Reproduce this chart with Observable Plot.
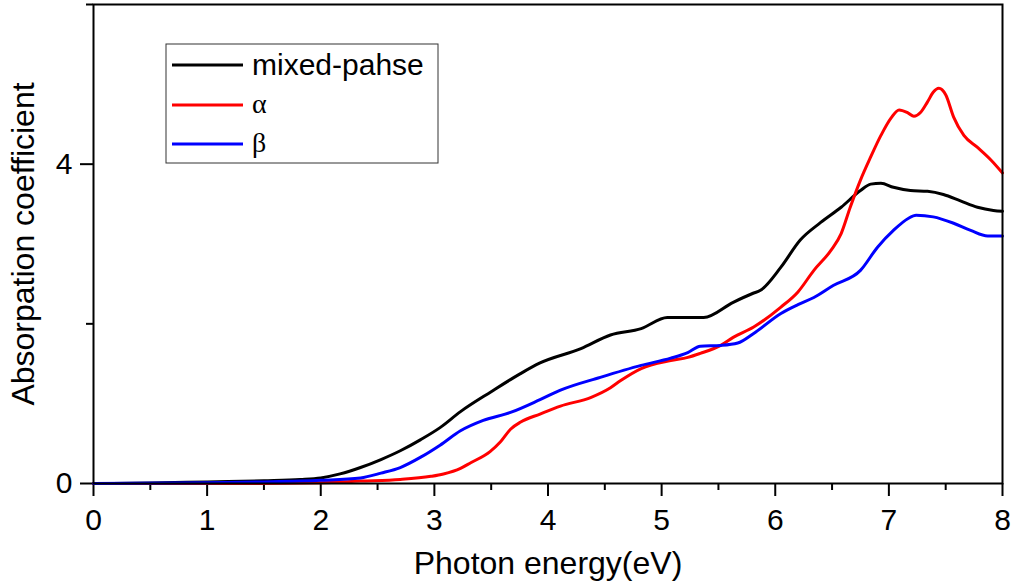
<!DOCTYPE html>
<html><head><meta charset="utf-8">
<script src="https://cdn.jsdelivr.net/npm/d3@7"></script>
<script src="https://cdn.jsdelivr.net/npm/@observablehq/plot@0.6"></script>
<style>body{margin:0;background:#fff}#chart{width:1014px;height:586px}</style>
</head><body><div id="chart"></div>
<script>
const seriesNames = ["mixed-pahse", "α", "β"];
const seriesColors = ["#000000", "#ff0000", "#0000ff"];

const mixedX = [0, 0.5, 1, 1.5, 1.82, 2.0, 2.17, 2.35, 2.53, 2.70, 2.88, 3.05, 3.23, 3.5, 3.75, 3.93, 4.29, 4.55, 4.82, 5.05, 5.37, 5.63, 5.8, 5.87, 6.05, 6.22, 6.4, 6.58, 6.75, 6.84, 6.93, 7.04, 7.19, 7.34, 7.48, 7.63, 7.78, 7.92, 8.0];
const mixedY = [0, 0.005, 0.02, 0.035, 0.05, 0.07, 0.12, 0.20, 0.30, 0.41, 0.55, 0.70, 0.90, 1.15, 1.37, 1.51, 1.69, 1.86, 1.94, 2.08, 2.08, 2.27, 2.38, 2.42, 2.71, 3.05, 3.27, 3.46, 3.67, 3.75, 3.76, 3.71, 3.67, 3.66, 3.62, 3.54, 3.46, 3.42, 3.41];

const alphaX = [0, 1, 1.7, 2.0, 2.35, 2.70, 2.97, 3.08, 3.23, 3.32, 3.49, 3.58, 3.67, 3.76, 3.93, 4.11, 4.38, 4.55, 4.64, 4.82, 5.08, 5.23, 5.34, 5.52, 5.63, 5.81, 6.05, 6.20, 6.34, 6.49, 6.58, 6.66, 6.75, 6.84, 6.93, 7.02, 7.09, 7.17, 7.22, 7.28, 7.34, 7.39, 7.44, 7.50, 7.57, 7.66, 7.78, 7.90, 8.0];
const alphaY = [0, 0, 0.003, 0.01, 0.03, 0.05, 0.09, 0.12, 0.19, 0.26, 0.40, 0.52, 0.68, 0.77, 0.87, 0.97, 1.08, 1.20, 1.29, 1.44, 1.54, 1.58, 1.63, 1.73, 1.83, 1.96, 2.21, 2.40, 2.67, 2.92, 3.13, 3.46, 3.80, 4.09, 4.36, 4.58, 4.68, 4.64, 4.60, 4.65, 4.78, 4.90, 4.95, 4.87, 4.59, 4.36, 4.21, 4.05, 3.89];

const betaX = [0, 1, 1.5, 2.0, 2.35, 2.53, 2.70, 2.88, 3.05, 3.23, 3.43, 3.67, 3.93, 4.11, 4.46, 4.82, 5.08, 5.23, 5.34, 5.52, 5.67, 5.81, 6.05, 6.20, 6.34, 6.51, 6.75, 6.90, 7.04, 7.17, 7.24, 7.39, 7.57, 7.72, 7.87, 8.0];
const betaY = [0, 0.01, 0.02, 0.04, 0.07, 0.13, 0.20, 0.33, 0.48, 0.66, 0.79, 0.89, 1.05, 1.17, 1.33, 1.48, 1.57, 1.64, 1.72, 1.73, 1.76, 1.88, 2.13, 2.24, 2.33, 2.48, 2.67, 2.96, 3.17, 3.32, 3.36, 3.34, 3.26, 3.17, 3.10, 3.10];

const xMajorTicks = [0, 1, 2, 3, 4, 5, 6, 7, 8];
const xMinorTicks = [0.5, 1.5, 2.5, 3.5, 4.5, 5.5, 6.5, 7.5];
const yMajorTicks = [0, 4];
const yMinorTicks = [2, 6];

const xs = [mixedX, alphaX, betaX];
const ys = [mixedY, alphaY, betaY];
const rows = [];
seriesNames.forEach((name, i) => {
  xs[i].forEach((x, j) => rows.push({series: name, x, y: ys[i][j]}));
});

const font = "Arial, 'Liberation Sans', Helvetica, sans-serif";
const chart = Plot.plot({
  width: 1014,
  height: 586,
  marginLeft: 93,
  marginRight: 12,
  marginTop: 4,
  marginBottom: 103,
  style: {fontFamily: font, fontSize: "30px", color: "#000", background: "#fff", overflow: "visible"},
  x: {domain: [0, 8]},
  y: {domain: [0, 6]},
  color: {domain: seriesNames, range: seriesColors},
  marks: [
    Plot.axisX({ticks: xMinorTicks, tickSize: 7, text: null, label: null, strokeWidth: 2}),
    Plot.axisX({ticks: xMajorTicks, tickSize: 13, tickPadding: 12, tickFormat: d => String(d), strokeWidth: 2, label: null}),
    Plot.axisX({ticks: [], label: "Photon energy(eV)", labelAnchor: "center", labelArrow: "none", labelOffset: 90, fontSize: 32}),
    Plot.axisY({ticks: yMinorTicks, tickSize: 7, text: null, label: null, strokeWidth: 2}),
    Plot.axisY({ticks: yMajorTicks, tickSize: 13, tickPadding: 8, tickFormat: d => String(d), strokeWidth: 2, label: null}),
    Plot.axisY({ticks: [], label: "Absorpation coefficient", labelAnchor: "center", labelArrow: "none", labelOffset: 82, fontSize: 32}),
    Plot.line(rows, {x: "x", y: "y", z: "series", stroke: "series", strokeWidth: 3, curve: "monotone-x"}),
    Plot.frame({stroke: "#000", strokeWidth: 2})
  ]
});
document.getElementById("chart").appendChild(chart);

// legend
const svg = d3.select(chart);
const lg = svg.append("g").attr("text-anchor", "start");
lg.append("rect").attr("x", 166).attr("y", 44).attr("width", 272).attr("height", 119)
  .attr("fill", "#fff").attr("stroke", "#333").attr("stroke-width", 1);
const legendY = [65, 105, 144];
const legendBase = [75, 113, 152];
seriesNames.forEach((name, i) => {
  lg.append("line").attr("x1", 172).attr("x2", 243).attr("y1", legendY[i]).attr("y2", legendY[i])
    .attr("stroke", seriesColors[i]).attr("stroke-width", 3);
  lg.append("text").attr("x", 252).attr("y", legendBase[i]).text(name)
    .attr("fill", "#000").attr("text-anchor", "start")
    .style("font-family", i === 0 ? font : "'Liberation Serif', 'DejaVu Serif', serif")
    .style("font-size", i === 0 ? "30px" : "28px");
});
</script>
</body></html>
